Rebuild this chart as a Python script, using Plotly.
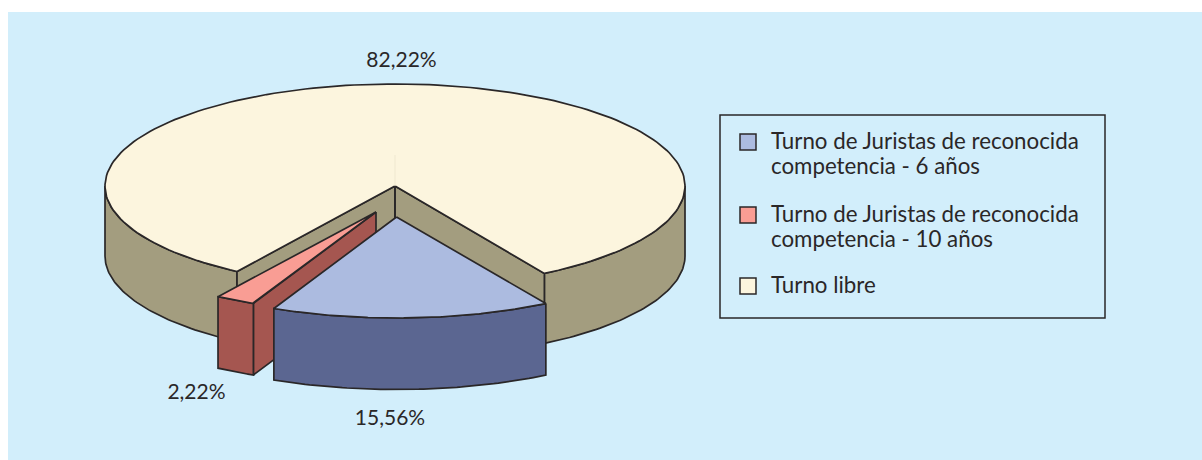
import numpy as np
import plotly.graph_objects as go

categories = ["Turno de Juristas de reconocida<br>competencia - 6 años",
              "Turno de Juristas de reconocida<br>competencia - 10 años",
              "Turno libre"]
values = [15.56, 2.22, 82.22]
value_labels = ["15,56%", "2,22%", "82,22%"]

top_colors = ["#ACBBE0", "#F99D94", "#FCF5DE"]
side_colors = ["#5B6691", "#A55650", "#A39D7F"]
outline = "#2A2728"
text_color = "#2A2728"
font = "Lato"

W, H = 1202, 460
RX = [290, 290, 290]
RY = [101, 101, 102]
CENTER = [(396.5, 217), (376, 212), (395, 186)]
DEPTH = [71.5, 71.5, 70]
LABEL_POS = [(390, 420), (196.5, 394), (401.5, 62)]
START = -31.0  # degrees from "down", growing clockwise
LEGEND_BOX = (720, 115, 1105, 318)
LEGEND_MARK_X = 748
LEGEND_TEXT_X = 771
LEGEND_MARK_Y = [142, 215, 286]
LEGEND_Y = [143.5, 216.5, 287.5]
LEGEND_LINE = 25
LINE_W = 1.7

fig = go.Figure()


def pt(i, phi):
    p = np.radians(phi)
    return CENTER[i][0] - RX[i] * np.sin(p), CENTER[i][1] + RY[i] * np.cos(p)


def poly(xs, ys, fill):
    fig.add_trace(go.Scatter(x=list(xs) + [xs[0]], y=list(ys) + [ys[0]], mode="lines", fill="toself",
                             fillcolor=fill, line=dict(color=outline, width=LINE_W),
                             hoverinfo="skip", showlegend=False))


def arc(i, a, b, n=60):
    return pt(i, np.linspace(a, b, n))


def outer_wall(i, a, b):
    x, y = arc(i, a, b)
    poly(np.r_[x, x[::-1]], np.r_[y, y[::-1] + DEPTH[i]], side_colors[i])


def inner_wall(i, phi):
    cx, cy = CENTER[i]
    x, y = pt(i, phi)
    poly([cx, x, x, cx], [cy, y, y + DEPTH[i], cy + DEPTH[i]], side_colors[i])


def top_face(i, a, b):
    x, y = arc(i, a, b, 180)
    cx, cy = CENTER[i]
    poly(np.r_[cx, x], np.r_[cy, y], top_colors[i])


# slice angular extents, derived from the values
total = sum(values)
edges = START + np.cumsum([0] + values) / total * 360
blue, red, main = 0, 1, 2

# large slice
outer_wall(main, edges[2], 90)
outer_wall(main, 270, edges[3])
inner_wall(main, edges[2])
inner_wall(main, edges[3])
top_face(main, edges[2], edges[3])
x0, y0 = CENTER[main]
fig.add_trace(go.Scatter(x=[x0, x0], y=[y0 - 31, y0], mode="lines",
                         line=dict(color="#EFE8D0", width=1), hoverinfo="skip", showlegend=False))
fig.add_trace(go.Scatter(x=[x0, x0], y=[y0, y0 + DEPTH[main]], mode="lines",
                         line=dict(color=outline, width=LINE_W), hoverinfo="skip", showlegend=False))

# small slice
inner_wall(red, edges[1])
outer_wall(red, edges[1], edges[2])
top_face(red, edges[1], edges[2])

# exploded front slice
outer_wall(blue, edges[0], edges[1])
top_face(blue, edges[0], edges[1])

# value labels
for lab, (lx, ly) in zip(value_labels, LABEL_POS):
    fig.add_trace(go.Scatter(x=[lx], y=[ly], mode="text", text=[lab], textposition="middle center",
                             textfont=dict(family=font, size=21, color=text_color),
                             hoverinfo="skip", showlegend=False))

# legend
fig.add_trace(go.Scatter(x=[LEGEND_MARK_X] * len(categories), y=LEGEND_MARK_Y, mode="markers",
                         marker=dict(symbol="square", size=16, color=top_colors,
                                     line=dict(color=outline, width=1.5)),
                         hoverinfo="skip", showlegend=False))
for cat, ly in zip(categories, LEGEND_Y):
    for k, line in enumerate(cat.split("<br>")):
        fig.add_trace(go.Scatter(x=[LEGEND_TEXT_X], y=[ly + k * LEGEND_LINE], mode="text", text=[line],
                                 textposition="middle right",
                                 textfont=dict(family=font, size=22.3, color=text_color),
                                 hoverinfo="skip", showlegend=False))

fig.update_layout(
    width=W, height=H, autosize=False,
    margin=dict(l=0, r=0, t=0, b=0),
    paper_bgcolor="white", plot_bgcolor="rgba(0,0,0,0)",
    xaxis=dict(range=[0, W], visible=False, fixedrange=True),
    yaxis=dict(range=[H, 0], visible=False, fixedrange=True),
    showlegend=False,
    shapes=[dict(type="rect", layer="below", xref="x", yref="y", x0=8, x1=W, y0=12, y1=H,
                 fillcolor="#D2EEFB", line=dict(width=0)),
            dict(type="rect", layer="below", xref="x", yref="y",
                 x0=LEGEND_BOX[0], y0=LEGEND_BOX[1], x1=LEGEND_BOX[2], y1=LEGEND_BOX[3],
                 line=dict(color=outline, width=1.5))],
)
fig.write_html("out.html", config=dict(displayModeBar=False),
               post_script="document.body.style.margin='0';document.body.style.overflow='hidden';")
